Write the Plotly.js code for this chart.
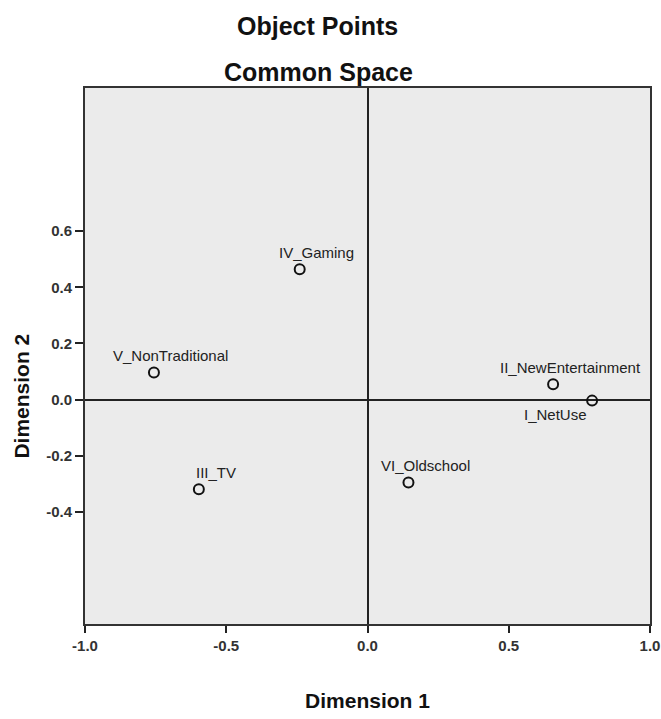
<!DOCTYPE html>
<html>
<head>
<meta charset="utf-8">
<script src="https://cdn.plot.ly/plotly-3.0.1.min.js"></script>
<style>html,body{margin:0;padding:0;background:#fff;}#chart{width:661px;height:719px;}</style>
</head>
<body>
<div id="chart"></div>
<script>
const labels = ["I_NetUse", "II_NewEntertainment", "III_TV", "IV_Gaming", "V_NonTraditional", "VI_Oldschool"];
const dim1 = [0.795, 0.657, -0.597, -0.240, -0.756, 0.145];
const dim2 = [-0.004, 0.054, -0.320, 0.464, 0.096, -0.296];
const xTicks = [-1.0, -0.5, 0.0, 0.5, 1.0];
const yTicks = [-0.4, -0.2, 0.0, 0.2, 0.4, 0.6];

const fnt = "Liberation Sans, Arial, sans-serif";

const trace = {
  x: dim1, y: dim2, type: "scatter", mode: "markers",
  marker: {symbol: "circle-open", size: 10, color: "#111", line: {width: 2, color: "#111"}},
  hoverinfo: "skip", showlegend: false
};

const annotations = labels.map((t, i) => {
  const below = t === "I_NetUse";
  return {
    x: dim1[i], y: dim2[i], xref: "x", yref: "y", text: t, showarrow: false,
    xanchor: "center", yanchor: "middle",
    xshift: below ? -37 : 17, yshift: below ? -14 : 17,
    font: {family: fnt, size: 15, color: "#222"}
  };
});
annotations.push(
  {text: "<b>Object Points</b>", xref: "paper", yref: "paper", x: (317 - 85) / 565, y: 1, xanchor: "center", yanchor: "middle", yshift: 62, showarrow: false, font: {family: fnt, size: 25, color: "#111"}},
  {text: "<b>Common Space</b>", xref: "paper", yref: "paper", x: (318 - 85) / 565, y: 1, xanchor: "center", yanchor: "middle", yshift: 16, showarrow: false, font: {family: fnt, size: 25, color: "#111"}},
  {text: "<b>Dimension 2</b>", xref: "paper", yref: "paper", x: 0, y: (623 - 396) / 535, xanchor: "center", yanchor: "middle", xshift: -63, textangle: -90, showarrow: false, font: {family: fnt, size: 21, color: "#111"}}
);

const layout = {
  width: 661, height: 719,
  margin: {l: 85, r: 11, t: 88, b: 95},
  paper_bgcolor: "#fff", plot_bgcolor: "#ebebeb",
  showlegend: false,
  xaxis: {
    range: [-1.0, 1.0], tickvals: xTicks, ticktext: xTicks.map(v => "<b>" + v.toFixed(1) + "</b>"),
    ticks: "outside", ticklen: 7, tickwidth: 2, tickcolor: "#222",
    showgrid: false, zeroline: true, zerolinecolor: "#222", zerolinewidth: 2,
    showline: true, mirror: true, linecolor: "#333", linewidth: 2,
    tickfont: {family: fnt, size: 15, color: "#333"},
    title: {text: "<b>Dimension 1</b>", font: {family: fnt, size: 21, color: "#111"}, standoff: 40}
  },
  yaxis: {
    range: [-0.80, 1.11], tickvals: yTicks, ticktext: yTicks.map(v => "<b>" + v.toFixed(1) + "</b>"),
    ticks: "outside", ticklen: 8, tickwidth: 2, tickcolor: "#222",
    showgrid: false, zeroline: true, zerolinecolor: "#222", zerolinewidth: 2,
    showline: true, mirror: true, linecolor: "#333", linewidth: 2,
    tickfont: {family: fnt, size: 15, color: "#333"}
  },
  annotations: annotations
};

Plotly.newPlot("chart", [trace], layout, {displayModeBar: false, staticPlot: true});
</script>
</body>
</html>
